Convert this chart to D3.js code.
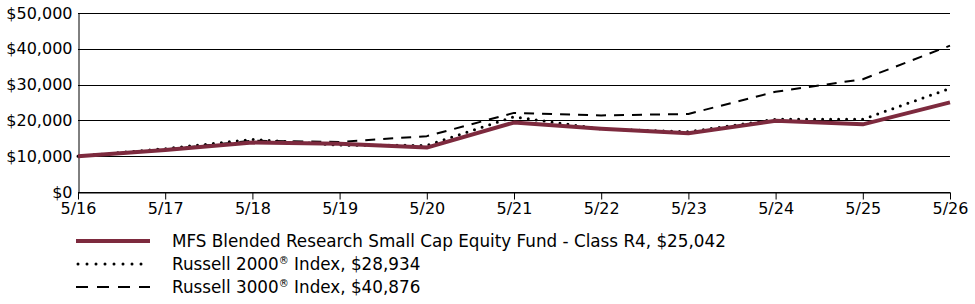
<!DOCTYPE html>
<html>
<head>
<meta charset="utf-8">
<script src="https://cdn.jsdelivr.net/npm/d3@7"></script>
<style>
  body { margin: 0; background: #fff; }
  text { font-family: "DejaVu Sans", Verdana, sans-serif; fill: #000; }
</style>
</head>
<body>
<div id="chart"></div>
<script>
// tick labels / categories
var years = ["5/16", "5/17", "5/18", "5/19", "5/20", "5/21", "5/22", "5/23", "5/24", "5/25", "5/26"];
var yTicks = [0, 10000, 20000, 30000, 40000, 50000];

// series values
var fund = [10000, 11700, 13800, 13500, 12400, 19400, 17700, 16400, 19900, 18900, 25042];
var r2000 = [10000, 12100, 14700, 13100, 13000, 21000, 17600, 16800, 20300, 20300, 28934];
var r3000 = [10000, 11900, 14300, 14000, 15600, 22100, 21400, 21800, 28000, 31500, 40876];

var seriesNames = [
    "MFS Blended Research Small Cap Equity Fund - Class R4, $25,042",
    "Russell 2000\u00AE Index, $28,934",
    "Russell 3000\u00AE Index, $40,876"
];

function init() {
    var w = 975;
    var h = 304;
    var left = 78, right = 950, top = 13, bottom = 192;

    var xScale = d3.scalePoint()
                   .domain(years)
                   .range([left, right]);

    var yScale = d3.scaleLinear()
                   .domain([0, 50000])
                   .range([bottom, top]);

    var svg = d3.select("#chart")
                .append("svg")
                .attr("width", w)
                .attr("height", h);

    //gridlines
    svg.append("g")
        .selectAll("line")
        .data(yTicks)
        .enter()
        .append("line")
        .attr("x1", left)
        .attr("x2", right)
        .attr("y1", function(d) { return Math.round(yScale(d)) + 0.5; })
        .attr("y2", function(d) { return Math.round(yScale(d)) + 0.5; })
        .attr("stroke", "#000")
        .attr("stroke-width", 1);

    //y axis
    var yAxis = d3.axisLeft(yScale)
                  .tickValues(yTicks)
                  .tickSize(0)
                  .tickPadding(6)
                  .tickFormat(function(d) { return "$" + d3.format(",")(d); });

    var gy = svg.append("g")
        .attr("transform", "translate(" + (left + 0.5) + ",0)")
        .call(yAxis);
    gy.select(".domain").attr("stroke", "#000");
    gy.selectAll("text").style("font-size", "16px").style("font-family", "DejaVu Sans, Verdana, sans-serif");

    //x axis
    var xAxis = d3.axisBottom(xScale)
                  .tickSize(7)
                  .tickSizeOuter(0)
                  .tickPadding(3);

    var gx = svg.append("g")
        .attr("transform", "translate(0," + (bottom + 0.5) + ")")
        .call(xAxis);
    gx.select(".domain").attr("stroke", "#000");
    gx.selectAll("line").attr("stroke", "#000");
    gx.selectAll("text").style("font-size", "16px").style("font-family", "DejaVu Sans, Verdana, sans-serif");

    var line = d3.line()
                 .x(function(d, i) { return xScale(years[i]); })
                 .y(function(d) { return yScale(d); });

    var styles = [
        { color: "#7d2a3e", width: 4, dash: null, cap: "butt" },
        { color: "#000", width: 3, dash: "0,8", cap: "round" },
        { color: "#000", width: 2, dash: "10,8", cap: "butt" }
    ];

    var data = [fund, r2000, r3000];

    //draw lines (dashed, dotted, fund on top)
    [2, 1, 0].forEach(function(k) {
        svg.append("path")
            .datum(data[k])
            .attr("fill", "none")
            .attr("stroke", styles[k].color)
            .attr("stroke-width", styles[k].width)
            .attr("stroke-dasharray", styles[k].dash)
            .attr("stroke-linecap", styles[k].cap)
            .attr("stroke-linejoin", "round")
            .attr("d", line);
    });

    //legend
    var legend = svg.append("g");
    var rows = [241, 264, 287];
    seriesNames.forEach(function(name, k) {
        legend.append("line")
            .attr("x1", k == 1 ? 78 : 76)
            .attr("x2", 150)
            .attr("y1", rows[k])
            .attr("y2", rows[k])
            .attr("stroke", styles[k].color)
            .attr("stroke-width", styles[k].width)
            .attr("stroke-dasharray", k == 2 ? "12,9" : (k == 1 ? "0,9" : styles[k].dash))
            .attr("stroke-linecap", styles[k].cap);

        var t = legend.append("text")
            .attr("x", 172)
            .attr("y", rows[k] + 6)
            .style("font-size", "16.8px");
        var parts = name.split("\u00AE");
        t.append("tspan").text(parts[0]);
        if (parts.length > 1) {
            t.append("tspan").attr("dy", -6).style("font-size", "10px").text("\u00AE");
            t.append("tspan").attr("dy", 6).text(parts[1]);
        }
    });
}
window.onload = init;
</script>
</body>
</html>
